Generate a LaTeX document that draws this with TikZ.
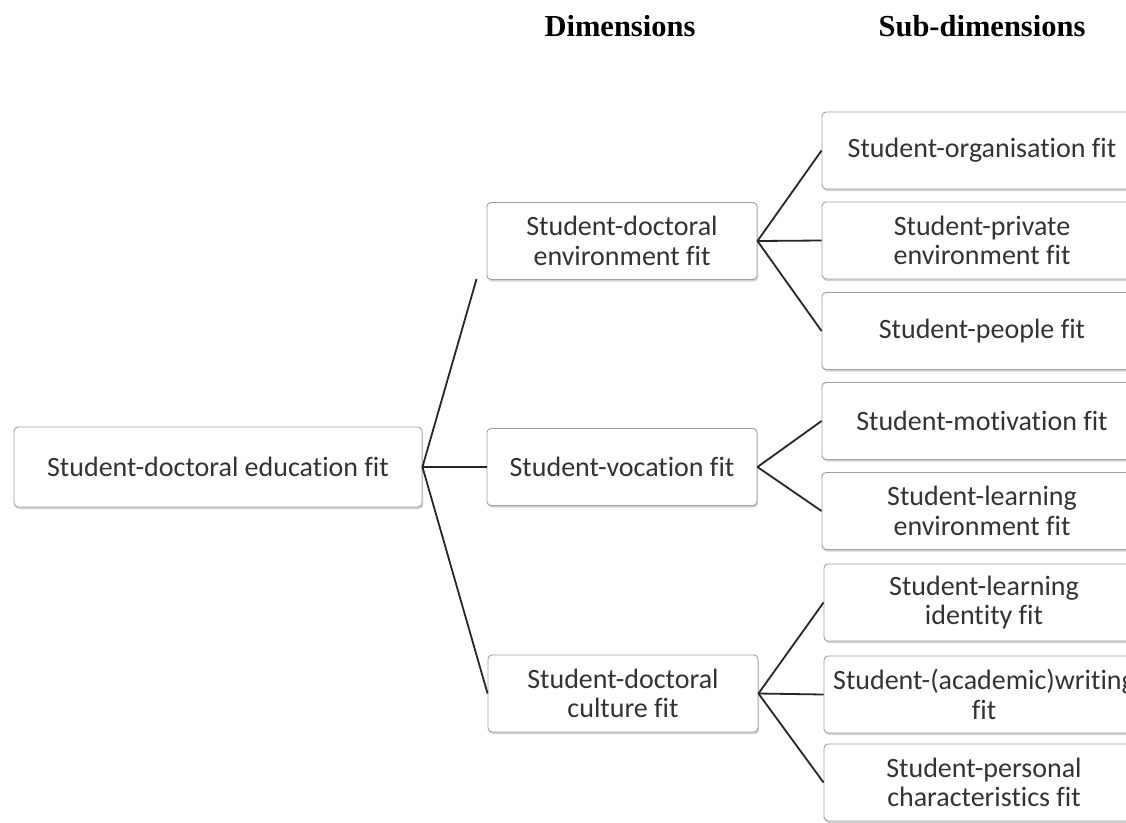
\documentclass[tikz,border=0pt]{standalone}
\usepackage{fontspec}
\newfontfamily\boxfont[Ligatures=NoCommon]{Carlito}
\newfontfamily\headfont{Liberation Serif}
\usetikzlibrary{positioning, shadows, calc}

\begin{document}
\begin{tikzpicture}[x=1pt, y=-1pt,
    box/.style={draw=gray!75, fill=white, rounded corners=4pt, line width=0.9pt,
      text=black!80, align=center, inner sep=0pt,
      font=\boxfont\fontsize{28}{29.5}\selectfont,
      drop shadow={opacity=0.35, shadow xshift=1pt, shadow yshift=-2pt}},
    rootbox/.style={box, minimum width=408pt, minimum height=80pt},
    dimbox/.style={box, minimum width=270pt, minimum height=77pt},
    subbox/.style={box, minimum width=320pt, minimum height=77pt},
    head/.style={font=\headfont\bfseries\fontsize{30.5}{32}\selectfont, anchor=base},
    link/.style={draw=black!85, line width=1.8pt}]
      \clip (0,0) rectangle (1126,822);
      \fill[white] (0,0) rectangle (1126,822);

      \node[head] (hdim) at (620,36)  {Dimensions};
      \node[head] (hsub) at (982,36)  {Sub-dimensions};

      % left column
      \node[rootbox] (root) at (218,467) {Student-doctoral education fit};

      % dimensions
      \node[dimbox] (env)  at (622,241)   {Student-doctoral\\environment fit};
      \node[dimbox] (voc)  at (622,467)   {Student-vocation fit};
      \node[dimbox] (cult) at (623,693.5) {Student-doctoral\\culture fit};

      % sub-dimensions
      \node[subbox] (org)    at (982,150.5) {Student-organisation fit};
      \node[subbox] (priv)   at (982,240.5) {Student-private\\environment fit};
      \node[subbox] (people) at (982,331)   {Student-people fit};
      \node[subbox] (motiv)  at (982,421)   {Student-motivation fit};
      \node[subbox] (learn)  at (982,511)   {Student-learning\\environment fit};
      \node[subbox] (ident)  at (984,602.5) {Student-learning\\identity fit};
      \node[subbox] (write)  at (984,694.5) {Student-(academic)writing\\fit};
      \node[subbox] (pers)   at (984,782.5) {Student-personal\\characteristics fit};

      \coordinate (envend) at ($(env.south west)+(-10,-1)$);

      \draw[link] (root.east) -- (envend);
      \draw[link] (root.east) -- (voc.west);
      \draw[link] (root.east) -- (cult.west);

      \draw[link] (env.east) -- (org.west);
      \draw[link] (env.east) -- (priv.west);
      \draw[link] (env.east) -- (people.west);

      \draw[link] (voc.east) -- (motiv.west);
      \draw[link] (voc.east) -- (learn.west);

      \draw[link] (cult.east) -- (ident.west);
      \draw[link] (cult.east) -- (write.west);
      \draw[link] (cult.east) -- (pers.west);
\end{tikzpicture}
\end{document}
